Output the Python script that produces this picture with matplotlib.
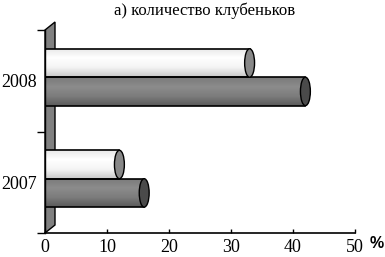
import matplotlib
matplotlib.use("Agg")
import matplotlib.pyplot as plt
import numpy as np
from matplotlib.patches import Ellipse, Polygon
from matplotlib.colors import LinearSegmentedColormap
import matplotlib.transforms as mtransforms

title = "а) количество клубеньков"
years = ["2007", "2008"]
series_light = [12, 33]
series_dark = [16, 42]
xticks = [0, 10, 20, 30, 40, 50]

fig = plt.figure(figsize=(3.85, 2.57), dpi=100)
ax = fig.add_axes([45/385, 1-233/257, 310/385, 203/257])
ax.set_xlim(0, 50)
ax.set_ylim(0, 2)

# left 3D wall
off = mtransforms.ScaledTranslation(10/100, 8/100, fig.dpi_scale_trans)
tA = ax.transAxes
tB = ax.transAxes + off
p0 = tA.transform((0, 0)); p1 = tA.transform((0, 1))
p2 = tB.transform((0, 1)); p3 = tB.transform((0, 0))
pts = ax.transAxes.inverted().transform([p0, p1, p2, p3])
wall = Polygon(pts, closed=True, transform=ax.transAxes, facecolor="#808080",
               edgecolor="black", lw=1.0, clip_on=False, zorder=1)
ax.add_patch(wall)

cmap_light = LinearSegmentedColormap.from_list("l", ["#e8e8e8", "#ffffff", "#f4f4f4", "#c8c8c8"])
cmap_dark = LinearSegmentedColormap.from_list("d", ["#7a7a7a", "#8c8c8c", "#7c7c7c", "#5a5a5a"])

ypos = np.arange(len(years)) + 0.5
h = 0.28
light = ax.barh(ypos + 0.175, series_light, height=h, facecolor="none",
                edgecolor="black", lw=1.2, zorder=3)
dark = ax.barh(ypos - 0.105, series_dark, height=h, facecolor="none",
               edgecolor="black", lw=1.2, zorder=3)

grad = np.linspace(0, 1, 64).reshape(-1, 1)
cap_w = 1.6
for bars, cmap, capc in [(light, cmap_light, "#888888"), (dark, cmap_dark, "#4a4a4a")]:
    for r in bars:
        x0, y0, w, hh = r.get_x(), r.get_y(), r.get_width(), r.get_height()
        im = ax.imshow(grad, cmap=cmap, extent=(x0, x0 + w, y0, y0 + hh),
                       origin="upper", aspect="auto", zorder=2)
        im.set_clip_path(r)
        e = Ellipse((x0 + w, y0 + hh/2), cap_w, hh, facecolor=capc,
                    edgecolor="black", lw=1.0, zorder=4)
        ax.add_patch(e)

ax.set_xlim(0, 50)
ax.set_ylim(0, 2)

for s in ["top", "right"]:
    ax.spines[s].set_visible(False)
ax.spines["left"].set_linewidth(1.0)
ax.spines["bottom"].set_linewidth(1.2)

ax.set_xticks(xticks)
ax.set_xticklabels([str(t) for t in xticks], fontfamily="Liberation Serif", fontsize=13)
ax.tick_params(axis="x", direction="in", length=3, width=1, pad=4)

ax.set_yticks([0, 1, 2])
ax.set_yticklabels([])
ax.set_yticks(ypos, minor=True)
ax.set_yticklabels(years, minor=True, fontfamily="Liberation Serif", fontsize=13)
ax.tick_params(axis="y", which="major", direction="out", length=6, width=1)
ax.tick_params(axis="y", which="minor", length=0, pad=6)

fig.text(205/385, 1-11/257, title, ha="center", va="center",
         fontfamily="Liberation Serif", fontsize=12)
fig.text(377/385, 1-243/257, "%", ha="center", va="center",
         fontfamily="Liberation Sans", fontsize=11.5, fontweight="bold")

fig.savefig("out.png", dpi=100)
